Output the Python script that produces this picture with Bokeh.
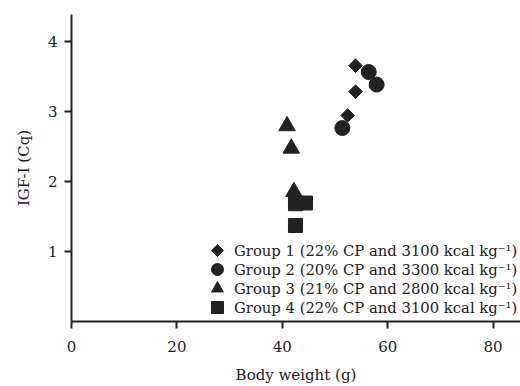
import math
from bokeh.plotting import figure
from bokeh.models import Legend, LegendItem, Range1d, FixedTicker
from bokeh.embed import file_html
from bokeh.resources import INLINE

# Data
g1_x = [53.9, 53.9, 52.4]
g1_y = [3.65, 3.28, 2.94]
g2_x = [56.4, 57.9, 51.4]
g2_y = [3.56, 3.38, 2.76]
g3_x = [40.9, 41.7, 42.2]
g3_y = [2.79, 2.47, 1.85]
g4_x = [42.5, 44.4, 42.5]
g4_y = [1.68, 1.69, 1.37]

labels = [
    "Group 1 (22% CP and 3100 kcal kg\u207b\u00b9)",
    "Group 2 (20% CP and 3300 kcal kg\u207b\u00b9)",
    "Group 3 (21% CP and 2800 kcal kg\u207b\u00b9)",
    "Group 4 (22% CP and 3100 kcal kg\u207b\u00b9)",
]
x_ticks = [0, 20, 40, 60, 80]
y_ticks = [1, 2, 3, 4]

FONT = "DejaVu Serif"
INK = "#222222"

p = figure(width=520, height=386, output_backend="svg", toolbar_location=None,
           x_range=Range1d(0, 85.2), y_range=Range1d(0, 4.38),
           min_border_left=71, min_border_right=0, min_border_top=14,
           min_border_bottom=65)
p.outline_line_color = None
p.xgrid.visible = False
p.ygrid.visible = False
p.background_fill_color = "white"
p.border_fill_color = "white"

try:
    r1 = p.ngon(x=g1_x, y=g1_y, radius=6.8, radius_units="screen", n=4,
                color=INK)
except Exception:
    r1 = p.scatter(g1_x, g1_y, marker="square", size=9.5, angle=math.pi / 4,
                   color=INK)
r2 = p.scatter(g2_x, g2_y, marker="circle", size=15, color=INK)
r3 = p.scatter(g3_x, g3_y, marker="triangle", size=16.5, color=INK)
r4 = p.scatter(g4_x, g4_y, marker="square", size=14, color=INK)

for ax in (p.xaxis[0], p.yaxis[0]):
    ax.axis_line_color = INK
    ax.axis_line_width = 2
    ax.major_tick_line_color = INK
    ax.major_tick_line_width = 2
    ax.major_tick_out = 7
    ax.major_tick_in = 0
    ax.minor_tick_line_color = None
    ax.major_label_text_font = FONT
    ax.major_label_text_font_size = "15px"
    ax.major_label_text_color = INK
    ax.axis_label_text_font = FONT
    ax.axis_label_text_font_size = "15px"
    ax.axis_label_text_font_style = "normal"
    ax.axis_label_text_color = INK

p.xaxis[0].ticker = FixedTicker(ticks=x_ticks)
p.yaxis[0].ticker = FixedTicker(ticks=y_ticks)
p.xaxis[0].axis_label = "Body weight (g)"
p.yaxis[0].axis_label = "IGF-I (Cq)"
p.xaxis[0].major_label_standoff = 12
p.xaxis[0].axis_label_standoff = 11
p.yaxis[0].major_label_standoff = 7
p.yaxis[0].axis_label_standoff = 12

# One legend row per group, stacked 19px apart (rows are close together)
renderers = [r1, r2, r3, r4]
row_offsets = [56, 37, 18, -1]
for rend, lab, off in zip(renderers, labels, row_offsets):
    lg = Legend(items=[LegendItem(label=lab, renderers=[rend])],
                location=(131, off))
    lg.background_fill_alpha = 0
    lg.border_line_color = None
    lg.margin = 0
    lg.padding = 0
    lg.spacing = 0
    lg.label_height = 19
    lg.glyph_height = 30
    lg.glyph_width = 30
    lg.label_standoff = 2
    lg.label_text_font = FONT
    lg.label_text_font_size = "14.8px"
    lg.label_text_color = INK
    p.add_layout(lg)

open("out.html", "w").write(file_html(p, INLINE))
